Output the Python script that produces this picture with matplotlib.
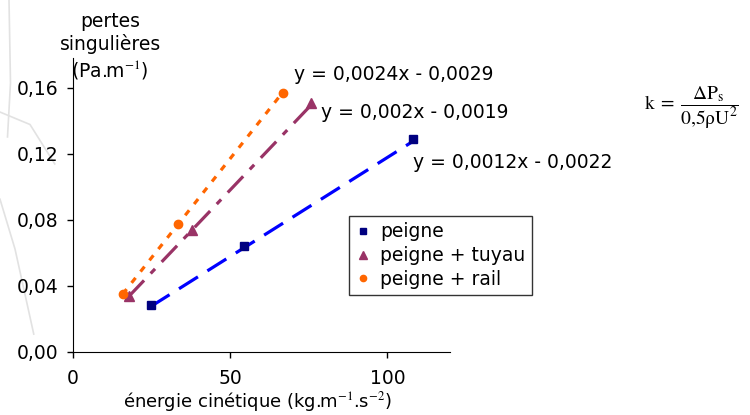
import numpy as np
import matplotlib.pyplot as plt
from matplotlib.lines import Line2D

plt.rcParams['font.family'] = ['DejaVu Sans']
plt.rcParams['mathtext.fontset'] = 'stix'

# data
peigne_x = [24.7, 54.4, 108.2]
peigne_y = [0.0285, 0.064, 0.129]
tuyau_x = [17.7, 38.0, 75.6]
tuyau_y = [0.034, 0.074, 0.151]
rail_x = [15.8, 33.5, 66.8]
rail_y = [0.035, 0.0775, 0.157]

# trendline coefficients (slope, intercept) as printed
fit_peigne = (0.0012, -0.0022)
fit_tuyau = (0.002, -0.0019)
fit_rail = (0.0024, -0.0029)

eq_labels = ['y = 0,0024x - 0,0029', 'y = 0,002x - 0,0019', 'y = 0,0012x - 0,0022']
x_ticks = [0, 50, 100]
y_ticks = [0.0, 0.04, 0.08, 0.12, 0.16]

FS = 13.5

fig = plt.figure(figsize=(7.5, 4.15), dpi=100)
ax = fig.add_axes([0.0973, 0.152, 0.503, 0.708])

# faint background curves from the source slide
for pts in ([(0.012, 1.0), (0.014, 0.8), (0.01, 0.67)],
            [(0.0, 0.73), (0.04, 0.7), (0.073, 0.605)],
            [(0.0, 0.52), (0.02, 0.4), (0.045, 0.195)]):
    xs, ys = zip(*pts)
    fig.add_artist(Line2D(xs, ys, color='#e2e2e2', lw=1.2, transform=fig.transFigure, zorder=0))

def trend(xs, fit):
    xx = np.array([min(xs), max(xs)])
    return xx, fit[0] * xx + fit[1]

xx, yy = trend(peigne_x, fit_peigne)
ax.plot(xx, yy, color='#0000ff', lw=2.3, dashes=(7, 3.5))
xx, yy = trend(tuyau_x, fit_tuyau)
ax.plot(xx, yy, color='#993366', lw=2.3, dashes=(7, 3, 2, 3))
xx, yy = trend(rail_x, fit_rail)
ax.plot(xx, yy, color='#ff6600', lw=2.3, dashes=(2, 2.5))

ax.plot(peigne_x, peigne_y, 's', color='#000080', ms=6, label='peigne')
ax.plot(tuyau_x, tuyau_y, '^', color='#993366', ms=7, label='peigne + tuyau')
ax.plot(rail_x, rail_y, 'o', color='#ff6600', ms=6, label='peigne + rail')

ax.set_xlim(0, 120)
ax.set_ylim(0, 0.178)
ax.set_xticks(x_ticks)
ax.set_xticklabels([str(t) for t in x_ticks])
ax.set_yticks(y_ticks)
ax.set_yticklabels([('%.2f' % t).replace('.', ',') for t in y_ticks])
ax.spines['top'].set_visible(False)
ax.spines['right'].set_visible(False)
ax.tick_params(axis='both', direction='out', length=4.5, width=1, labelsize=FS)
ax.tick_params(axis='x', pad=8)
ax.tick_params(axis='y', pad=6)

ax.set_xlabel('énergie cinétique (kg.m$^{-1}$.s$^{-2}$)', fontsize=13)
ax.xaxis.label.set_va('baseline')
ax.xaxis.set_label_coords(0.49, -0.19)

fig.text(0.147, 0.972, 'pertes\nsingulières\n(Pa.m$^{-1}$)', ha='center', va='top',
         fontsize=FS, linespacing=1.2)

ax.text(70.3, 0.1679, eq_labels[0], fontsize=FS, va='center')
ax.text(78.8, 0.1448, eq_labels[1], fontsize=FS, va='center')
ax.text(108.2, 0.1145, eq_labels[2], fontsize=FS, va='center')

leg = ax.legend(loc='upper left', bbox_to_anchor=(0.732, 0.463), frameon=True, fancybox=False,
                fontsize=FS, handlelength=0.8, handletextpad=0.5, borderpad=0.35,
                labelspacing=0.25, numpoints=1, markerscale=0.75, borderaxespad=0)
leg.get_frame().set_edgecolor('black')
leg.get_frame().set_linewidth(1)

fig.text(0.922, 0.74, r'$\mathrm{k}\;=\;\dfrac{\Delta\mathrm{P_s}}{0{,}5\mathrm{\rho U}^2}$',
         ha='center', va='center', fontsize=14)

fig.savefig('out.png', dpi=100)
